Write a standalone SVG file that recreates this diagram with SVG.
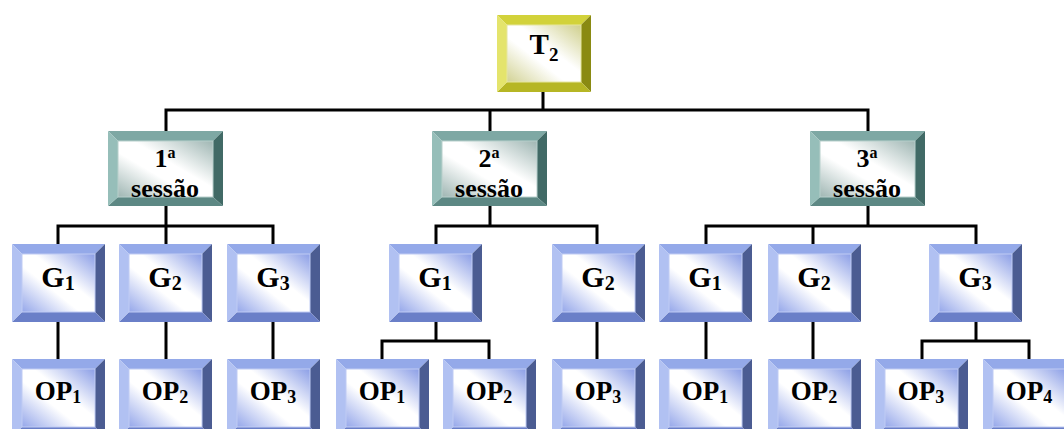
<svg xmlns="http://www.w3.org/2000/svg" xmlns:xlink="http://www.w3.org/1999/xlink" width="1064" height="429" viewBox="0 0 1064 429">
<style>
.lbl{font-family:"Liberation Serif","Times New Roman",serif;font-weight:bold;fill:#000;text-anchor:middle}
.g{font-size:30px}
.op{font-size:27px}
.ss{font-size:26px}
.conn{fill:none;stroke:#000;stroke-width:3;stroke-linecap:square}
</style>
<defs>
<linearGradient id="gBlue" x1="1" y1="0" x2="0" y2="1">
<stop offset="0" stop-color="#8b9ee6"/><stop offset="0.42" stop-color="#ffffff"/><stop offset="0.6" stop-color="#ffffff"/><stop offset="1" stop-color="#95a7ea"/>
</linearGradient>
<linearGradient id="gTeal" x1="1" y1="0" x2="0" y2="1">
<stop offset="0" stop-color="#9fb6b3"/><stop offset="0.42" stop-color="#ffffff"/><stop offset="0.6" stop-color="#ffffff"/><stop offset="1" stop-color="#9fb6b3"/>
</linearGradient>
<linearGradient id="gYel" x1="1" y1="0" x2="0" y2="1">
<stop offset="0" stop-color="#cfcf8c"/><stop offset="0.42" stop-color="#ffffff"/><stop offset="0.6" stop-color="#ffffff"/><stop offset="1" stop-color="#d2d294"/>
</linearGradient>
<g id="gbox">
<polygon points="0,0 93,0 83,10 10,10" fill="#94a9e9"/>
<polygon points="93,0 93,78 83,68 83,10" fill="#4b5c92"/>
<polygon points="0,78 93,78 83,68 10,68" fill="#6a7fc8"/>
<polygon points="0,0 10,10 10,68 0,78" fill="#b1c1f2"/>
<rect x="10" y="10" width="73" height="58" fill="url(#gBlue)" stroke="#c0ccf4" stroke-width="1"/>
</g>
<g id="sbox">
<polygon points="0,0 115,0 105,10 10,10" fill="#7ea8a4"/>
<polygon points="115,0 115,75 105,66 105,10" fill="#416a66"/>
<polygon points="0,75 115,75 105,66 10,66" fill="#5d8884"/>
<polygon points="0,0 10,10 10,66 0,75" fill="#96beb9"/>
<rect x="10" y="10" width="95" height="56" fill="url(#gTeal)" stroke="#b8cfcc" stroke-width="1"/>
</g>
<g id="tbox">
<polygon points="0,0 94,0 84,10 10,10" fill="#d2d23a"/>
<polygon points="94,0 94,77 84,67 84,10" fill="#8a8a12"/>
<polygon points="0,77 94,77 84,67 10,67" fill="#b6b624"/>
<polygon points="0,0 10,10 10,67 0,77" fill="#e4e46c"/>
<rect x="10" y="10" width="74" height="57" fill="url(#gYel)" stroke="#e6e6a0" stroke-width="1"/>
</g>
</defs>
<rect width="1064" height="429" fill="#ffffff"/>
<g id="connectors">
<path class="conn" d="M543 92V110M166 110H868M166 110V131M490 110V131M868 110V131"/>
<path class="conn" d="M166 206V226M58 226H273M58 226V244M166 226V244M273 226V244"/>
<path class="conn" d="M490 206V226M436 226H597M436 226V244M597 226V244"/>
<path class="conn" d="M868 206V226M706 226H976M706 226V244M813 226V244M976 226V244"/>
<path class="conn" d="M58 322V359M166 322V359M273 322V359"/>
<path class="conn" d="M436 322V341M382 341H489M382 341V359M489 341V359M597 322V359"/>
<path class="conn" d="M706 322V359M813 322V359M976 322V341M922 341H1029M922 341V359M1029 341V359"/>
</g>
<g id="t2"><use xlink:href="#tbox" x="497" y="15"/><text class="lbl" x="544" y="54" font-size="29">T<tspan font-size="19" dy="7">2</tspan></text></g>
<g id="s1"><use xlink:href="#sbox" x="108" y="131"/><text class="lbl ss" x="165" y="167">1<tspan font-size="16" dy="-9">a</tspan></text><text class="lbl ss" x="165" y="197">sessão</text></g>
<g id="s2"><use xlink:href="#sbox" x="432" y="131"/><text class="lbl ss" x="489" y="167">2<tspan font-size="16" dy="-9">a</tspan></text><text class="lbl ss" x="489" y="197">sessão</text></g>
<g id="s3"><use xlink:href="#sbox" x="810" y="131"/><text class="lbl ss" x="867" y="167">3<tspan font-size="16" dy="-9">a</tspan></text><text class="lbl ss" x="867" y="197">sessão</text></g>
<g id="s1g1"><use xlink:href="#gbox" x="12" y="244"/><text class="lbl g" x="58" y="287">G<tspan font-size="20" dy="3">1</tspan></text></g>
<g id="s1g2"><use xlink:href="#gbox" x="119" y="244"/><text class="lbl g" x="165" y="287">G<tspan font-size="20" dy="3">2</tspan></text></g>
<g id="s1g3"><use xlink:href="#gbox" x="227" y="244"/><text class="lbl g" x="273" y="287">G<tspan font-size="20" dy="3">3</tspan></text></g>
<g id="s2g1"><use xlink:href="#gbox" x="389" y="244"/><text class="lbl g" x="435" y="287">G<tspan font-size="20" dy="3">1</tspan></text></g>
<g id="s2g2"><use xlink:href="#gbox" x="552" y="244"/><text class="lbl g" x="598" y="287">G<tspan font-size="20" dy="3">2</tspan></text></g>
<g id="s3g1"><use xlink:href="#gbox" x="659" y="244"/><text class="lbl g" x="705" y="287">G<tspan font-size="20" dy="3">1</tspan></text></g>
<g id="s3g2"><use xlink:href="#gbox" x="768" y="244"/><text class="lbl g" x="814" y="287">G<tspan font-size="20" dy="3">2</tspan></text></g>
<g id="s3g3"><use xlink:href="#gbox" x="929" y="244"/><text class="lbl g" x="975" y="287">G<tspan font-size="20" dy="3">3</tspan></text></g>
<g id="s1op1"><use xlink:href="#gbox" x="12" y="359"/><text class="lbl op" x="58" y="400">OP<tspan font-size="18" dy="3">1</tspan></text></g>
<g id="s1op2"><use xlink:href="#gbox" x="119" y="359"/><text class="lbl op" x="165" y="400">OP<tspan font-size="18" dy="3">2</tspan></text></g>
<g id="s1op3"><use xlink:href="#gbox" x="227" y="359"/><text class="lbl op" x="273" y="400">OP<tspan font-size="18" dy="3">3</tspan></text></g>
<g id="s2op1"><use xlink:href="#gbox" x="336" y="359"/><text class="lbl op" x="382" y="400">OP<tspan font-size="18" dy="3">1</tspan></text></g>
<g id="s2op2"><use xlink:href="#gbox" x="443" y="359"/><text class="lbl op" x="489" y="400">OP<tspan font-size="18" dy="3">2</tspan></text></g>
<g id="s2op3"><use xlink:href="#gbox" x="552" y="359"/><text class="lbl op" x="598" y="400">OP<tspan font-size="18" dy="3">3</tspan></text></g>
<g id="s3op1"><use xlink:href="#gbox" x="659" y="359"/><text class="lbl op" x="705" y="400">OP<tspan font-size="18" dy="3">1</tspan></text></g>
<g id="s3op2"><use xlink:href="#gbox" x="768" y="359"/><text class="lbl op" x="814" y="400">OP<tspan font-size="18" dy="3">2</tspan></text></g>
<g id="s3op3"><use xlink:href="#gbox" x="875" y="359"/><text class="lbl op" x="921" y="400">OP<tspan font-size="18" dy="3">3</tspan></text></g>
<g id="s3op4"><use xlink:href="#gbox" x="983" y="359"/><text class="lbl op" x="1029" y="400">OP<tspan font-size="18" dy="3">4</tspan></text></g>
</svg>
